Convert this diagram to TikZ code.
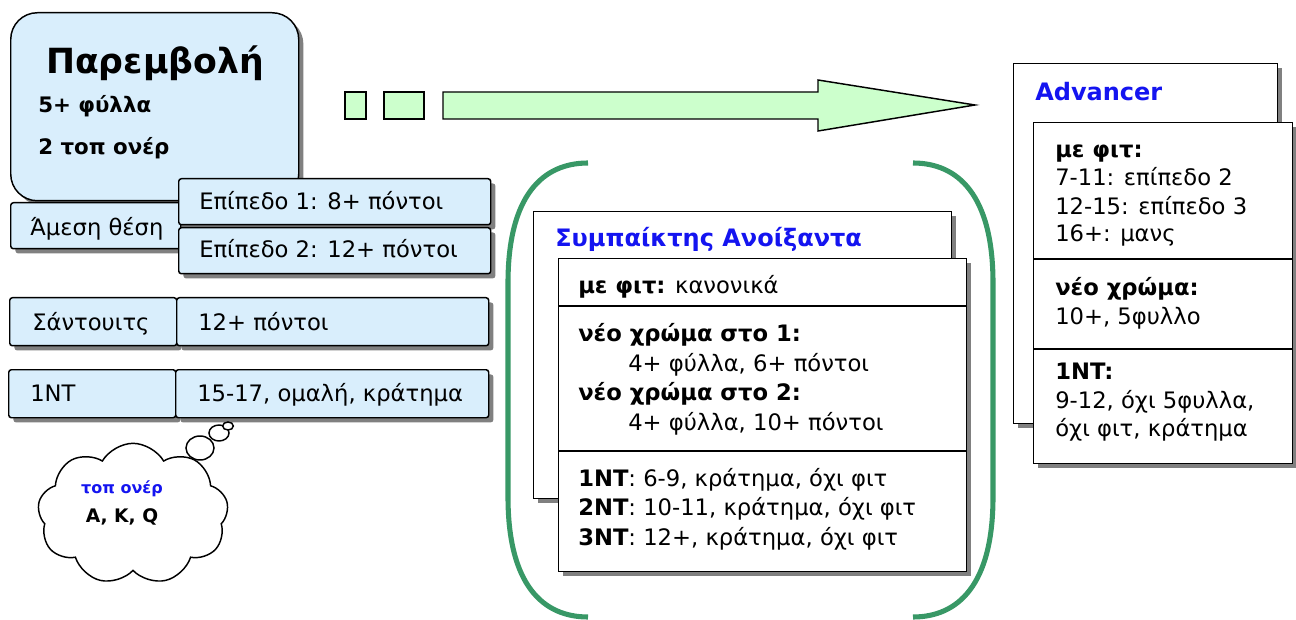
\documentclass[tikz,border=0pt]{standalone}
\usepackage{fontspec}
\setmainfont{DejaVu Sans}
\usetikzlibrary{shadows,shapes.symbols,shapes.geometric}

\definecolor{cellblue}{RGB}{217,238,252}
\definecolor{arrowgreen}{RGB}{204,255,204}
\definecolor{bracketgreen}{RGB}{56,152,102}
\definecolor{headblue}{RGB}{20,20,240}

\tikzset{
  boxshadow/.style={drop shadow={shadow xshift=3.5pt, shadow yshift=-3.5pt, fill=black!50, opacity=1}},
  cell/.style={draw, line width=1.1pt, fill=cellblue, rounded corners=2pt, anchor=north west, inner sep=0pt, boxshadow},
  card/.style={draw, line width=1.1pt, fill=white, anchor=north west, inner sep=0pt, boxshadow},
  txt/.style={anchor=base west, inner sep=0pt, font=\fontsize{17}{20}\selectfont},
  btxt/.style={txt, font=\fontsize{17}{20}\selectfont\bfseries},
  heading/.style={txt, font=\fontsize{18}{22}\selectfont\bfseries, text=headblue},
  bracket/.style={line width=3.8pt, draw=bracketgreen},
  arrowbox/.style={draw, line width=1.1pt, fill=arrowgreen},
  bubble/.style={ellipse, draw, line width=1.1pt, fill=white, inner sep=0pt}
}

\begin{document}
\begin{tikzpicture}[x=0.75pt, y=-0.75pt]
\useasboundingbox (0,0) rectangle (1296,620);

% overcall and its continuations
\node (parem) [cell, rounded corners=20pt, minimum width=216pt, minimum height=141pt] at (10,12) {};
\node (title) [font=\fontsize{26}{30}\selectfont\bfseries, inner sep=0pt] at (155,63) {Παρεμβολή};
\node (len) [btxt, font=\fontsize{16}{19}\selectfont\bfseries] at (38,113) {5+ φύλλα};
\node (hon) [btxt, font=\fontsize{16}{19}\selectfont\bfseries] at (38,155) {2 τοπ ονέρ};

\node (amesi) [cell, minimum width=127.5pt, minimum height=34.5pt] at (10,202) {};
\node (epi1) [cell, minimum width=234pt, minimum height=34.5pt] at (178,178) {};
\node (epi2) [cell, minimum width=234pt, minimum height=34.5pt] at (178,227) {};
\node (amesitxt) [txt] at (30,236) {Άμεση θέση};
\node (epi1txt) [txt] at (199,210) {Επίπεδο 1: 8+ πόντοι};
\node (epi2txt) [txt] at (199,258) {Επίπεδο 2: 12+ πόντοι};

\node (sand) [cell, minimum width=125.25pt, minimum height=36pt] at (9,297) {};
\node (sandpts) [cell, minimum width=234pt, minimum height=36pt] at (176,297) {};
\node (sandtxt) [txt] at (32,330) {Σάντουιτς};
\node (sandptstxt) [txt] at (198,330) {12+ πόντοι};

\node (nt) [cell, minimum width=125.25pt, minimum height=36pt] at (8,369) {};
\node (ntpts) [cell, minimum width=234.75pt, minimum height=36pt] at (175,369) {};
\node (nttxt) [txt] at (30,402) {1NT};
\node (ntptstxt) [txt] at (197,402) {15-17, ομαλή, κράτημα};

% thought cloud
\node (cloud) [cloud, draw, line width=1.1pt, fill=white, cloud puffs=9, cloud puff arc=120, aspect=1.35, minimum width=143pt, minimum height=106pt] at (133,514) {};
\node (b1) [bubble, minimum width=21pt, minimum height=18pt] at (200,448) {};
\node (b2) [bubble, minimum width=15pt, minimum height=12pt] at (219,433) {};
\node (b3) [bubble, minimum width=8pt, minimum height=6pt] at (228,426) {};
\node (cloudhead) [font=\fontsize{12}{14}\selectfont\bfseries, text=headblue, inner sep=0pt] at (122,489) {τοπ ονέρ};
\node (cloudcards) [font=\fontsize{14}{16}\selectfont\bfseries, inner sep=0pt] at (122,517) {A, K, Q};

% broken arrow
\draw[arrowbox] (345,92) rectangle (366,119);
\draw[arrowbox] (384,92) rectangle (424,119);
\draw[arrowbox] (443,92) -- (818,92) -- (818,80) -- (975,105) -- (818,131) -- (818,119) -- (443,119) -- cycle;

% green brackets
\draw[bracket] (588,163) .. controls (543,163) and (508,195) .. (508,283) -- (508,497) .. controls (508,585) and (543,617) .. (588,617);
\draw[bracket] (913,163) .. controls (958,163) and (993,195) .. (993,283) -- (993,497) .. controls (993,585) and (958,617) .. (913,617);

% partner
\node (pback) [card, minimum width=313.5pt, minimum height=215.25pt] at (533,211) {};
\node (ptitle) [heading] at (555,247) {Συμπαίκτης Ανοίξαντα};
\node (pfront) [card, minimum width=306pt, minimum height=234.75pt] at (558,258) {};
\coordinate (pdiv1) at (558,306);
\coordinate (pdiv2) at (558,451);
\draw[line width=1.1pt] (pdiv1) -- (pdiv1 -| pfront.east);
\draw[line width=1.1pt] (pdiv2) -- (pdiv2 -| pfront.east);
\node (p1) [txt] at (578,294) {\textbf{με φιτ:} κανονικά};
\node (p2) [btxt] at (578,341) {νέο χρώμα στο 1:};
\node (p3) [txt] at (628,371) {4+ φύλλα, 6+ πόντοι};
\node (p4) [btxt] at (578,400) {νέο χρώμα στο 2:};
\node (p5) [txt] at (628,430) {4+ φύλλα, 10+ πόντοι};
\node (p6) [txt] at (578,486) {\textbf{1NT}: 6-9, κράτημα, όχι φιτ};
\node (p7) [txt] at (578,515) {\textbf{2NT}: 10-11, κράτημα, όχι φιτ};
\node (p8) [txt] at (578,545) {\textbf{3NT}: 12+, κράτημα, όχι φιτ};

% advancer
\node (aback) [card, minimum width=198pt, minimum height=270pt] at (1013,63) {};
\node (atitle) [heading] at (1035,101) {Advancer};
\node (afront) [card, minimum width=194.25pt, minimum height=255.75pt] at (1033,122) {};
\coordinate (adiv1) at (1033,259);
\coordinate (adiv2) at (1033,349);
\draw[line width=1.1pt] (adiv1) -- (adiv1 -| afront.east);
\draw[line width=1.1pt] (adiv2) -- (adiv2 -| afront.east);
\node (a1) [btxt] at (1055,158) {με φιτ:};
\node (a2) [txt] at (1055,186) {7-11: επίπεδο 2};
\node (a3) [txt] at (1055,215) {12-15: επίπεδο 3};
\node (a4) [txt] at (1055,242) {16+: μανς};
\node (a5) [btxt] at (1055,296) {νέο χρώμα:};
\node (a6) [txt] at (1055,325) {10+, 5φυλλο};
\node (a7) [btxt] at (1055,379) {1NT:};
\node (a8) [txt] at (1055,408) {9-12, όχι 5φυλλα,};
\node (a9) [txt] at (1055,436) {όχι φιτ, κράτημα};
\end{tikzpicture}
\end{document}
